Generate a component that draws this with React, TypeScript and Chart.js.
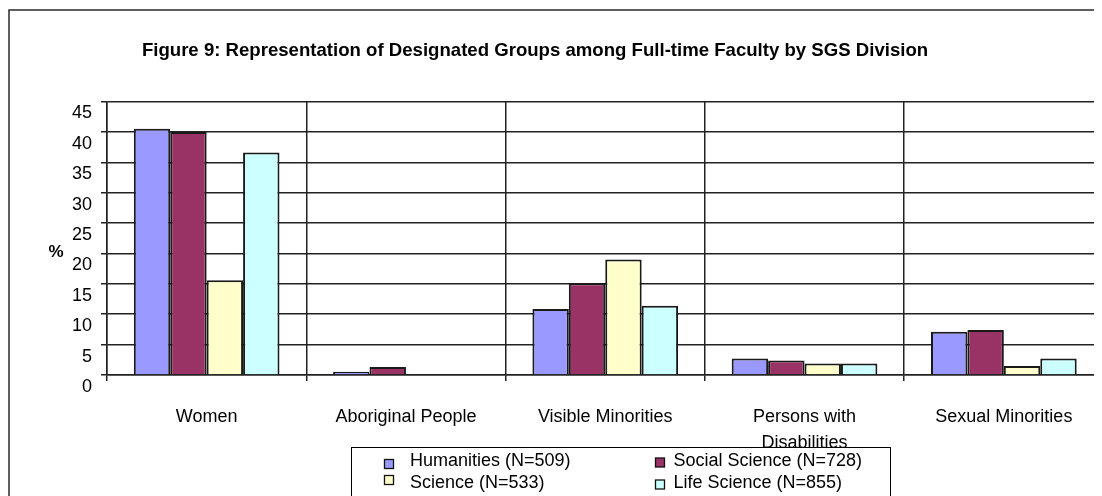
import React, { useEffect, useRef } from "react";
import { Chart, registerables } from "chart.js";

Chart.register(...registerables);

const titleText = "Figure 9: Representation of Designated Groups among Full-time Faculty by SGS Division";
const yAxisTitle = "%";
const categories = ["Women", "Aboriginal People", "Visible Minorities", "Persons with Disabilities", "Sexual Minorities"];
const tickLabelLines = [["Women"], ["Aboriginal People"], ["Visible Minorities"], ["Persons with", "Disabilities"], ["Sexual Minorities"]];
const seriesNames = ["Humanities (N=509)", "Social Science (N=728)", "Science (N=533)", "Life Science (N=855)"];
const humanities = [40.5, 0.55, 10.85, 2.7, 7.1];
const socialScience = [40.0, 1.3, 15.1, 2.4, 7.4];
const science = [15.6, 0, 19.0, 1.9, 1.5];
const lifeScience = [36.6, 0, 11.4, 1.9, 2.7];
const yMin = 0;
const yMax = 45;
const yStep = 5;

const colors = ["#9999FF", "#993366", "#FFFFCC", "#CCFFFF"];
const FONT = "'Liberation Sans', Arial, sans-serif";

// legend item placement (canvas coords): [markerX, markerY, textX, textBaseline]
const legendPlacement = [
  [376.5, 451.5, 402, 457.5],
  [647.5, 450, 665.5, 457.5],
  [376.5, 467.5, 402, 479.5],
  [647.5, 472, 665.5, 479.5],
];

const decorPlugin = {
  id: "decor",
  beforeDraw(chart: any) {
    const ctx = chart.ctx;
    ctx.save();
    ctx.fillStyle = "#ffffff";
    ctx.fillRect(0, 0, chart.width, chart.height);
    ctx.restore();
  },
  afterDraw(chart: any) {
    const ctx = chart.ctx;
    ctx.save();
    // outer frame
    ctx.strokeStyle = "#2a2a2a";
    ctx.lineWidth = 1.5;
    ctx.beginPath();
    ctx.moveTo(1, 600);
    ctx.lineTo(1, 2);
    ctx.lineTo(chart.width + 10, 2);
    ctx.stroke();

    // title
    ctx.fillStyle = "#000";
    ctx.font = `bold 18.6px ${FONT}`;
    ctx.textAlign = "center";
    ctx.textBaseline = "alphabetic";
    ctx.fillText(titleText, 527, 48);

    // y axis title
    ctx.font = `bold 17px ${FONT}`;
    ctx.textBaseline = "middle";
    ctx.fillText(yAxisTitle, 48, 244);

    // legend box
    const lx = 343.5, ly = 439.5, rx = 882.5;
    ctx.fillStyle = "#fff";
    ctx.fillRect(lx, ly, rx - lx, 200);
    ctx.strokeStyle = "#000";
    ctx.lineWidth = 1;
    ctx.strokeRect(lx, ly, rx - lx, 200);

    ctx.font = `18px ${FONT}`;
    ctx.textAlign = "left";
    ctx.textBaseline = "alphabetic";
    chart.data.datasets.forEach((ds: any, i: number) => {
      const [mx, my, tx, ty] = legendPlacement[i];
      ctx.fillStyle = ds.backgroundColor;
      ctx.fillRect(mx, my, 9, 9);
      ctx.strokeStyle = "#111";
      ctx.lineWidth = 1.3;
      ctx.strokeRect(mx, my, 9, 9);
      ctx.fillStyle = "#000";
      ctx.fillText(ds.label, tx, ty);
    });
    ctx.restore();
  },
};

export default function App() {
  const canvasRef = useRef<HTMLCanvasElement | null>(null);

  useEffect(() => {
    if (!canvasRef.current) return;
    const seriesValues = [humanities, socialScience, science, lifeScience];
    const chart = new Chart(canvasRef.current, {
      type: "bar",
      data: {
        labels: categories,
        datasets: seriesValues.map((vals, i) => ({
          label: seriesNames[i],
          data: vals,
          backgroundColor: colors[i],
          borderColor: "#1a1a1a",
          borderWidth: 2,
          borderSkipped: "bottom",
          categoryPercentage: 0.731,
          barPercentage: 1,
        })),
      },
      options: {
        animation: false,
        responsive: false,
        maintainAspectRatio: false,
        devicePixelRatio: 1,
        layout: { padding: { top: 93.5, left: 0, right: 14.5, bottom: 0 } },
        plugins: {
          legend: { display: false },
          title: { display: false },
          tooltip: { enabled: false },
        },
        scales: {
          x: {
            afterFit: (s: any) => { s.height = 121; },
            grid: {
              offset: true,
              color: "#222",
              lineWidth: 1.5,
              tickLength: 6,
              drawTicks: true,
            },
            border: { display: true, color: "#222", width: 1.5 },
            ticks: {
              color: "#000",
              font: { family: FONT, size: 18, lineHeight: 1.45 },
              padding: 23,
              maxRotation: 0,
              autoSkip: false,
              callback: (_v: any, i: number) => tickLabelLines[i],
            },
          },
          y: {
            min: yMin,
            max: yMax,
            afterFit: (s: any) => { s.width = 99; },
            grid: {
              color: "#222",
              lineWidth: 1.5,
              tickLength: 6,
              drawTicks: true,
            },
            border: { display: true, color: "#222", width: 1.5 },
            ticks: {
              stepSize: yStep,
              color: "#000",
              font: { family: FONT, size: 18 },
              padding: 9,
              labelOffset: 12,
            },
          },
        },
      },
      plugins: [decorPlugin],
    });
    return () => chart.destroy();
  }, []);

  return (
    <div style={{ width: 1094, height: 488, overflow: "hidden", position: "relative" }}>
      <canvas ref={canvasRef} width={1110} height={488} style={{ display: "block", width: 1110, height: 488 }} />
    </div>
  );
}
